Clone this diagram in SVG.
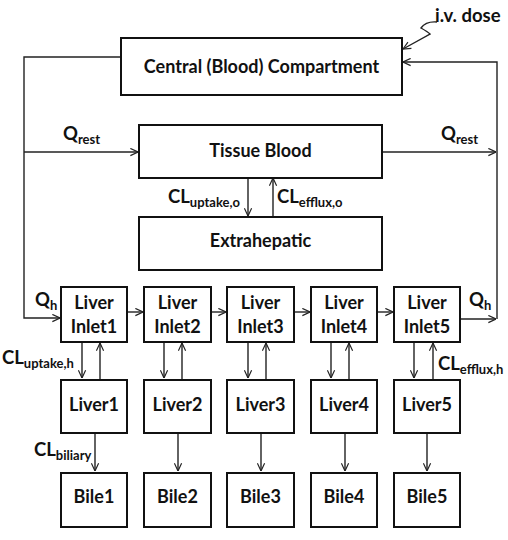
<svg xmlns="http://www.w3.org/2000/svg" width="508" height="540" viewBox="0 0 508 540">
<defs>
<marker id="ah" viewBox="0 0 10 10" refX="9.5" refY="5" markerWidth="9" markerHeight="9" markerUnits="userSpaceOnUse" orient="auto">
<path d="M1,1 L9.5,5 L1,9" fill="none" stroke="#222" stroke-width="1.3"/>
</marker>
<style>
.box{fill:#fff;stroke:#111;stroke-width:2}
.t{font-family:Lato,"Liberation Sans",sans-serif;font-weight:bold;font-size:18px;fill:#111;text-anchor:middle}
.l{font-family:Lato,"Liberation Sans",sans-serif;font-weight:bold;font-size:18.5px;fill:#111}
.s{font-size:13px}
.c{fill:none;stroke:#222;stroke-width:1.4}
.a{marker-end:url(#ah)}
</style>
</defs>
<g id="connectors">
<path class="c a" d="M121,57 H24 V318 H60"/>
<path class="c a" d="M24,152 H138"/>
<path class="c a" d="M382,152 H496"/>
<path class="c a" d="M460,319 H496"/>
<path class="c a" d="M497,319 V62 H403"/>
<path class="c a" d="M437,22 Q426,21 421,28 Q428,32 430,34 L403,49"/>
<path class="c a" d="M248,178 V216"/>
<path class="c a" d="M273,216 V178"/>
<path class="c a" d="M127,312 H143"/>
<path class="c a" d="M211,312 H226"/>
<path class="c a" d="M294,312 H310"/>
<path class="c a" d="M377,312 H393"/>
<path class="c a" d="M82,342 V378"/>
<path class="c a" d="M100,379 V343"/>
<path class="c a" d="M164,342 V378"/>
<path class="c a" d="M182,379 V343"/>
<path class="c a" d="M248,342 V378"/>
<path class="c a" d="M266,379 V343"/>
<path class="c a" d="M331,342 V378"/>
<path class="c a" d="M349,379 V343"/>
<path class="c a" d="M414,342 V378"/>
<path class="c a" d="M433,379 V343"/>
<path class="c a" d="M95,433 V471"/>
<path class="c a" d="M178,433 V471"/>
<path class="c a" d="M261,433 V471"/>
<path class="c a" d="M345,433 V471"/>
<path class="c a" d="M427,433 V471"/>
</g>
<g id="labels">
<text class="l" x="435" y="22">i.v. dose</text>
<text class="l" x="63" y="140">Q<tspan class="s" dy="4">rest</tspan></text>
<text class="l" x="441" y="140">Q<tspan class="s" dy="4">rest</tspan></text>
<text class="l" x="168" y="203">CL<tspan class="s" dy="4">uptake,o</tspan></text>
<text class="l" x="277" y="203">CL<tspan class="s" dy="4">efflux,o</tspan></text>
<text class="l" x="35" y="306">Q<tspan class="s" dy="4">h</tspan></text>
<text class="l" x="469" y="306">Q<tspan class="s" dy="4">h</tspan></text>
<text class="l" x="2" y="364">CL<tspan class="s" dy="4">uptake,h</tspan></text>
<text class="l" x="438" y="370">CL<tspan class="s" dy="4">efflux,h</tspan></text>
<text class="l" x="34" y="456">CL<tspan class="s" dy="4">biliary</tspan></text>
</g>
<g id="central"><rect class="box" x="121" y="38" width="281" height="57"/><text class="t" x="261.5" y="73">Central (Blood) Compartment</text></g>
<g id="tissue"><rect class="box" x="139" y="125" width="243" height="53"/><text class="t" x="260.5" y="157">Tissue Blood</text></g>
<g id="extrahepatic"><rect class="box" x="139" y="217" width="243" height="53"/><text class="t" x="260.5" y="247">Extrahepatic</text></g>
<g id="inlet1"><rect class="box" x="61" y="287" width="66" height="55"/><text class="t" x="94" y="309">Liver</text><text class="t" x="94" y="333">Inlet1</text></g>
<g id="inlet2"><rect class="box" x="144" y="287" width="67" height="55"/><text class="t" x="177.5" y="309">Liver</text><text class="t" x="177.5" y="333">Inlet2</text></g>
<g id="inlet3"><rect class="box" x="227" y="287" width="67" height="55"/><text class="t" x="260.5" y="309">Liver</text><text class="t" x="260.5" y="333">Inlet3</text></g>
<g id="inlet4"><rect class="box" x="311" y="287" width="66" height="55"/><text class="t" x="344" y="309">Liver</text><text class="t" x="344" y="333">Inlet4</text></g>
<g id="inlet5"><rect class="box" x="394" y="287" width="66" height="55"/><text class="t" x="427" y="309">Liver</text><text class="t" x="427" y="333">Inlet5</text></g>
<g id="liver1"><rect class="box" x="61" y="380" width="66" height="53"/><text class="t" x="94" y="411">Liver1</text></g>
<g id="liver2"><rect class="box" x="144" y="380" width="67" height="53"/><text class="t" x="177.5" y="411">Liver2</text></g>
<g id="liver3"><rect class="box" x="227" y="380" width="67" height="53"/><text class="t" x="260.5" y="411">Liver3</text></g>
<g id="liver4"><rect class="box" x="311" y="380" width="66" height="53"/><text class="t" x="344" y="411">Liver4</text></g>
<g id="liver5"><rect class="box" x="394" y="380" width="66" height="53"/><text class="t" x="427" y="411">Liver5</text></g>
<g id="bile1"><rect class="box" x="61" y="473" width="66" height="54"/><text class="t" x="94" y="503">Bile1</text></g>
<g id="bile2"><rect class="box" x="144" y="473" width="67" height="54"/><text class="t" x="177.5" y="503">Bile2</text></g>
<g id="bile3"><rect class="box" x="227" y="473" width="67" height="54"/><text class="t" x="260.5" y="503">Bile3</text></g>
<g id="bile4"><rect class="box" x="311" y="473" width="66" height="54"/><text class="t" x="344" y="503">Bile4</text></g>
<g id="bile5"><rect class="box" x="394" y="473" width="66" height="54"/><text class="t" x="427" y="503">Bile5</text></g>
</svg>
